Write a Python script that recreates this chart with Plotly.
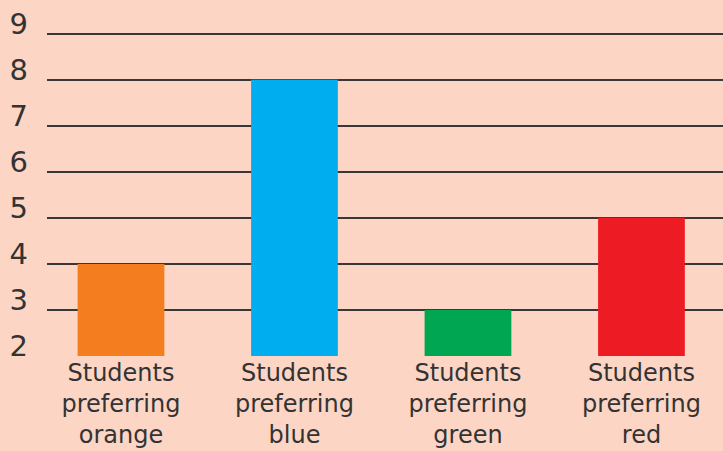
import plotly.graph_objects as go

categories = ["Students<br>preferring<br>orange", "Students<br>preferring<br>blue",
              "Students<br>preferring<br>green", "Students<br>preferring<br>red"]
values = [4, 8, 3, 5]
colors = ["#F47D20", "#00AEEF", "#00A651", "#ED1C24"]
y_ticks = [2, 3, 4, 5, 6, 7, 8, 9]

x_idx = list(range(len(categories)))

fig = go.Figure(go.Bar(x=x_idx, y=values, marker_color=colors, width=0.5,
                       marker_line_width=0))

bg = "#FCD5C5"
fig.update_layout(
    width=723, height=451,
    paper_bgcolor=bg, plot_bgcolor=bg,
    margin=dict(l=47, r=0, t=29.4, b=95),
    showlegend=False,
    font=dict(family="DejaVu Sans, sans-serif", color="#333333", size=24),
)
fig.update_xaxes(range=[-0.4265, 3.47], tickmode="array", tickvals=x_idx,
                 ticktext=categories, showgrid=False, zeroline=False,
                 showline=False, ticks="", tickfont=dict(size=24, color="#333333"))
fig.update_yaxes(range=[2, 9.1], tickmode="array", tickvals=y_ticks,
                 showgrid=True, gridcolor="#383838", gridwidth=1.5,
                 zeroline=False, showline=False, ticks="", ticklabelstandoff=18,
                 ticklabelshift=-10,
                 tickfont=dict(size=29, color="#333333"))

fig.write_html("out.html", post_script="document.body.style.margin='0';",
               config={"displayModeBar": False})
